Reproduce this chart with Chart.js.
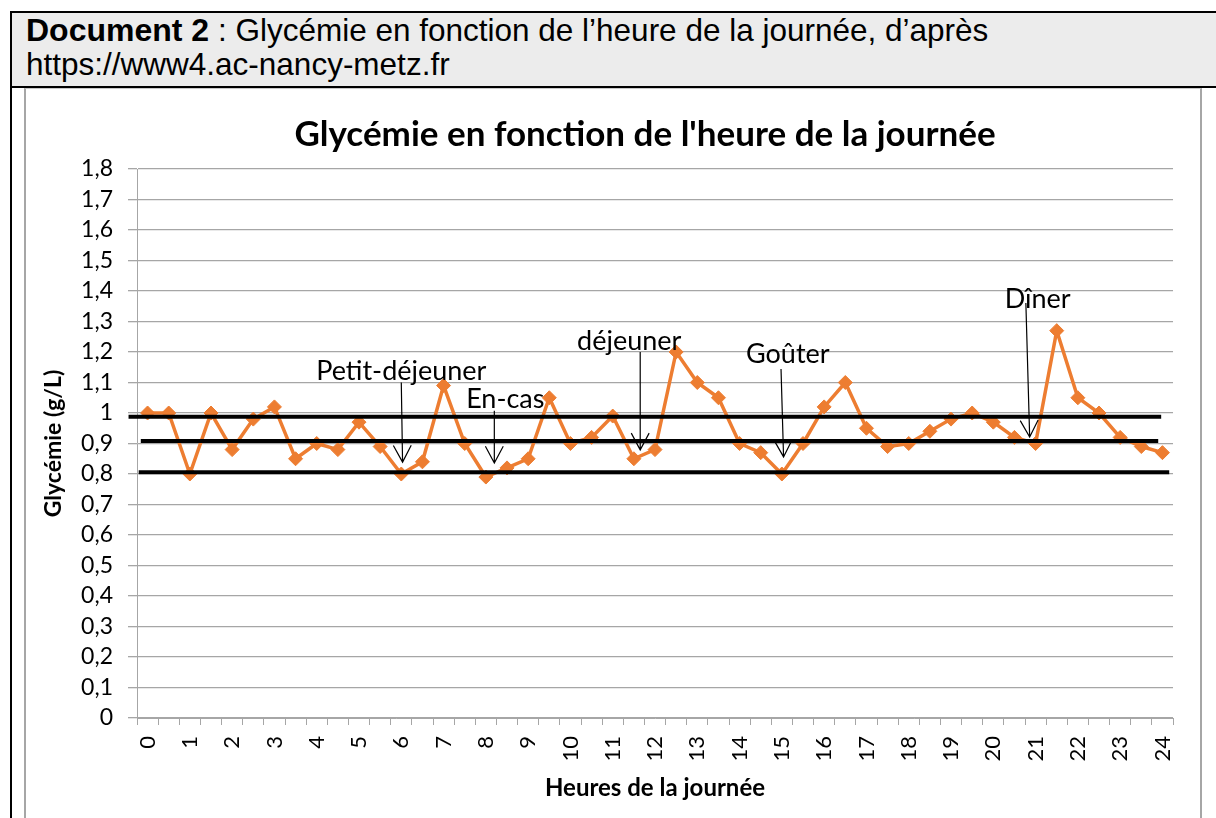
<!DOCTYPE html>
<html lang="fr">
<head>
<meta charset="utf-8">
<script src="https://cdn.jsdelivr.net/npm/chart.js@4.4.1/dist/chart.umd.min.js"></script>
<style>
    html, body { margin: 0; padding: 0; background: #fff; }
    body { width: 1216px; height: 818px; overflow: hidden; position: relative; font-family: "Liberation Sans", Arial, sans-serif; }
    #header {
        position: absolute; left: 10px; top: 11px; width: 1206px; height: 73px;
        background: #ececec; border-top: 2px solid #000; border-bottom: 2px solid #000; border-left: 2px solid #000;
    }
    #header p { margin: 0; position: absolute; left: 14px; font-size: 31.5px; line-height: 34px; color: #000; white-space: nowrap; }
    #header b { font-size: 32px; }
    #leftRule { position: absolute; left: 10px; top: 11px; width: 2px; height: 807px; background: #000; }
    #chartBox {
        position: absolute; left: 24px; top: 88px; width: 1174px; height: 740px;
        border-left: 2px solid #a6a6a6; border-right: 2px solid #a6a6a6; border-top: 1px solid #c8c8c8; background: #fff;
    }
    #chartBox canvas { position: absolute; left: 0; top: 0; }
</style>
</head>
<body>
<div id="header">
    <p style="top:0px"><b>Document 2</b> : Glycémie en fonction de l’heure de la journée, d’après</p>
    <p style="top:34px">https://www4.ac-nancy-metz.fr</p>
</div>
<div id="leftRule"></div>
<div id="chartBox">
    <canvas id="glyChart" width="1174" height="729"></canvas>
</div>
<script>
// heures (par demi-heure)
const hours = [0, 0.5, 1, 1.5, 2, 2.5, 3, 3.5, 4, 4.5, 5, 5.5, 6, 6.5, 7, 7.5, 8, 8.5, 9, 9.5,
    10, 10.5, 11, 11.5, 12, 12.5, 13, 13.5, 14, 14.5, 15, 15.5, 16, 16.5, 17, 17.5, 18, 18.5, 19, 19.5,
    20, 20.5, 21, 21.5, 22, 22.5, 23, 23.5, 24];

// glycémie en g/L
const glycemie = [1.00, 1.00, 0.80, 1.00, 0.88, 0.98, 1.02, 0.85, 0.90, 0.88, 0.97, 0.89, 0.80, 0.84, 1.09, 0.90,
    0.79, 0.82, 0.85, 1.05, 0.90, 0.92, 0.99, 0.85, 0.88, 1.20, 1.10, 1.05, 0.90, 0.87, 0.80, 0.90,
    1.02, 1.10, 0.95, 0.89, 0.90, 0.94, 0.98, 1.00, 0.97, 0.92, 0.90, 1.27, 1.05, 1.00, 0.92, 0.89, 0.87];

// traits noirs horizontaux (valeur, début et fin en heures)
const refValues = [0.988, 0.908, 0.806];
const refFrom = [-0.45, -0.16, -0.21];
const refTo = [23.97, 23.90, 24.16];

// repas : texte, position du texte (heure, g/L), flèche (heure, g/L) -> (heure, g/L)
const mealNames = ['Petit-déjeuner', 'En-cas', 'déjeuner', 'Goûter', 'Dîner'];
const mealTextAt = [[6.0, 1.108], [8.46, 1.016], [11.39, 1.207], [15.14, 1.164], [21.05, 1.344]];
const mealArrowFrom = [[6.0, 1.10], [8.2, 1.007], [11.65, 1.20], [14.98, 1.144], [20.77, 1.361]];
const mealArrowTo = [[6.03, 0.839], [8.2, 0.836], [11.65, 0.879], [15.04, 0.856], [20.86, 0.921]];

const chartTitle = "Glycémie en fonction de l'heure de la journée";

function xPix(scale, hour) {
    return scale.getPixelForValue(hour * 2);
}

const overlayPlugin = {
    id: 'overlay',
    afterDatasetsDraw(chart) {
        const ctx = chart.ctx;
        const xs = chart.scales.x, ys = chart.scales.y;
        ctx.save();
        // traits de référence
        ctx.strokeStyle = '#000';
        ctx.lineWidth = 4;
        refValues.forEach((v, i) => {
            const y = ys.getPixelForValue(v);
            ctx.beginPath();
            ctx.moveTo(xPix(xs, refFrom[i]), y);
            ctx.lineTo(xPix(xs, refTo[i]), y);
            ctx.stroke();
        });
        // flèches et textes
        ctx.lineWidth = 1.2;
        ctx.fillStyle = '#000';
        ctx.font = '27px Lato';
        ctx.textAlign = 'center';
        ctx.textBaseline = 'alphabetic';
        mealNames.forEach((name, i) => {
            const x1 = xPix(xs, mealArrowFrom[i][0]), y1 = ys.getPixelForValue(mealArrowFrom[i][1]);
            const x2 = xPix(xs, mealArrowTo[i][0]), y2 = ys.getPixelForValue(mealArrowTo[i][1]);
            const ang = Math.atan2(y2 - y1, x2 - x1);
            const len = 19, spread = 0.49;
            ctx.beginPath();
            ctx.moveTo(x1, y1);
            ctx.lineTo(x2, y2);
            ctx.moveTo(x2 - len * Math.cos(ang - spread), y2 - len * Math.sin(ang - spread));
            ctx.lineTo(x2, y2);
            ctx.lineTo(x2 - len * Math.cos(ang + spread), y2 - len * Math.sin(ang + spread));
            ctx.stroke();
            ctx.fillText(name, xPix(xs, mealTextAt[i][0]), ys.getPixelForValue(mealTextAt[i][1]));
        });
        // titre
        ctx.font = 'bold 35px Lato';
        ctx.fillText(chartTitle, 619, 57);
        ctx.restore();
    }
};

function drawChart() {
    Chart.defaults.font.family = 'Lato';
    Chart.defaults.color = '#000';

    const ctx = document.getElementById('glyChart').getContext('2d');
    new Chart(ctx, {
        type: 'line',
        data: {
            labels: hours,
            datasets: [{
                label: 'Glycémie',
                data: glycemie,
                borderColor: '#ED7D31',
                backgroundColor: '#ED7D31',
                borderWidth: 3.5,
                pointStyle: 'rectRot',
                pointRadius: 7,
                pointBorderWidth: 1,
                tension: 0,
                fill: false
            }]
        },
        options: {
            responsive: false,
            animation: false,
            layout: { padding: { top: 80, right: 15, left: 0, bottom: 0 } },
            plugins: {
                legend: { display: false },
                tooltip: { enabled: false },
                title: { display: false }
            },
            scales: {
                x: {
                    type: 'category',
                    offset: true,
                    afterFit: scale => { scale.height = 100; },
                    grid: { offset: true, drawOnChartArea: false, drawTicks: true, tickLength: 7, color: '#a6a6a6' },
                    border: { color: '#a6a6a6', width: 1 },
                    ticks: {
                        autoSkip: false,
                        maxRotation: 90,
                        minRotation: 90,
                        padding: 11,
                        font: { size: 22 },
                        callback: function(value, index) {
                            const h = hours[index];
                            return Number.isInteger(h) ? String(h) : '';
                        }
                    },
                    title: {
                        display: true,
                        text: 'Heures de la journée',
                        font: { size: 24, weight: 'bold' },
                        padding: { top: 0, bottom: 15 }
                    }
                },
                y: {
                    min: 0,
                    max: 1.8,
                    afterFit: scale => { scale.width = 111; },
                    grid: { color: '#a6a6a6', lineWidth: 1.3, drawTicks: true, tickLength: 9 },
                    border: { color: '#a6a6a6', width: 1 },
                    ticks: {
                        stepSize: 0.1,
                        autoSkip: false,
                        padding: 15,
                        font: { size: 23 },
                        callback: value => String(Math.round(value * 10) / 10).replace('.', ',')
                    },
                    title: {
                        display: true,
                        text: 'Glycémie (g/L)',
                        font: { size: 23, weight: 'bold' },
                        padding: { top: 14, bottom: 0 }
                    }
                }
            }
        },
        plugins: [overlayPlugin]
    });
}

Promise.all([
    document.fonts.load('21px Lato'),
    document.fonts.load('bold 21px Lato')
]).then(drawChart, drawChart);
</script>
</body>
</html>
